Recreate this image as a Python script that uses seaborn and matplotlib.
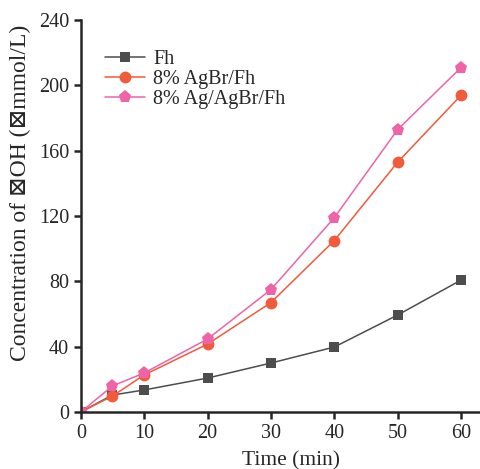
import pandas as pd
import seaborn as sns
import matplotlib.pyplot as plt

# data
time_min = [0, 5, 10, 20, 30, 40, 50, 60]
fh = [0, 10.4, 13.5, 20.8, 30, 39.8, 59.4, 80.8]
agbr_fh = [0, 9.8, 22.7, 41.6, 67, 105, 153, 194]
ag_agbr_fh = [0, 16, 23.9, 44.7, 75, 119, 173, 211]
series_names = ['Fh', '8% AgBr/Fh', '8% Ag/AgBr/Fh']
x_ticks = [0, 10, 20, 30, 40, 50, 60]
y_ticks = [0, 40, 80, 120, 160, 200, 240]

df = pd.DataFrame({
    'time': time_min * 3,
    'value': fh + agbr_fh + ag_agbr_fh,
    'sample': [series_names[0]] * 8 + [series_names[1]] * 8 + [series_names[2]] * 8,
})

sns.set_style('ticks')
plt.rcParams['font.family'] = ['Liberation Serif', 'DejaVu Serif', 'DejaVu Sans']

fig = plt.figure(figsize=(4.81, 4.69), dpi=100)
ax = fig.add_axes([0.168, 0.1215, 0.83, 0.8355])

palette = {'Fh': '#4d4d4d', '8% AgBr/Fh': '#f15a3b', '8% Ag/AgBr/Fh': '#ef63a7'}
markers = {'Fh': 's', '8% AgBr/Fh': 'o', '8% Ag/AgBr/Fh': 'p'}
sizes = {'Fh': 7.5, '8% AgBr/Fh': 8.5, '8% Ag/AgBr/Fh': 9.5}

for name in series_names:
    sub = df[df['sample'] == name]
    sns.lineplot(data=sub, x='time', y='value', ax=ax, color=palette[name],
                 marker=markers[name], markersize=sizes[name], markeredgewidth=0,
                 linewidth=1.1, label=name)

ax.set_xlim(0, 63)
ax.set_ylim(0, 240)
ax.set_xticks(x_ticks)
ax.set_yticks(y_ticks)
ax.set_xlabel('Time (min)', fontsize=15.5)
ax.set_ylabel('Concentration of \u22a0OH (\u22a0mmol/L)', fontsize=17)
ax.xaxis.set_label_coords(0.526, -0.1)
ax.yaxis.set_label_coords(-0.125, 0.56)
ax.tick_params(labelsize=14.5, width=1.8, length=5, direction='out')
for side in ['left', 'bottom']:
    ax.spines[side].set_linewidth(1.8)
sns.despine(ax=ax)

ax.legend(loc='upper left', bbox_to_anchor=(0.04, 0.945), frameon=False,
          fontsize=14.5, handlelength=2.0, handletextpad=0.4,
          labelspacing=0.06, borderaxespad=0)

fig.savefig('out.png', dpi=100)
plt.close(fig)
